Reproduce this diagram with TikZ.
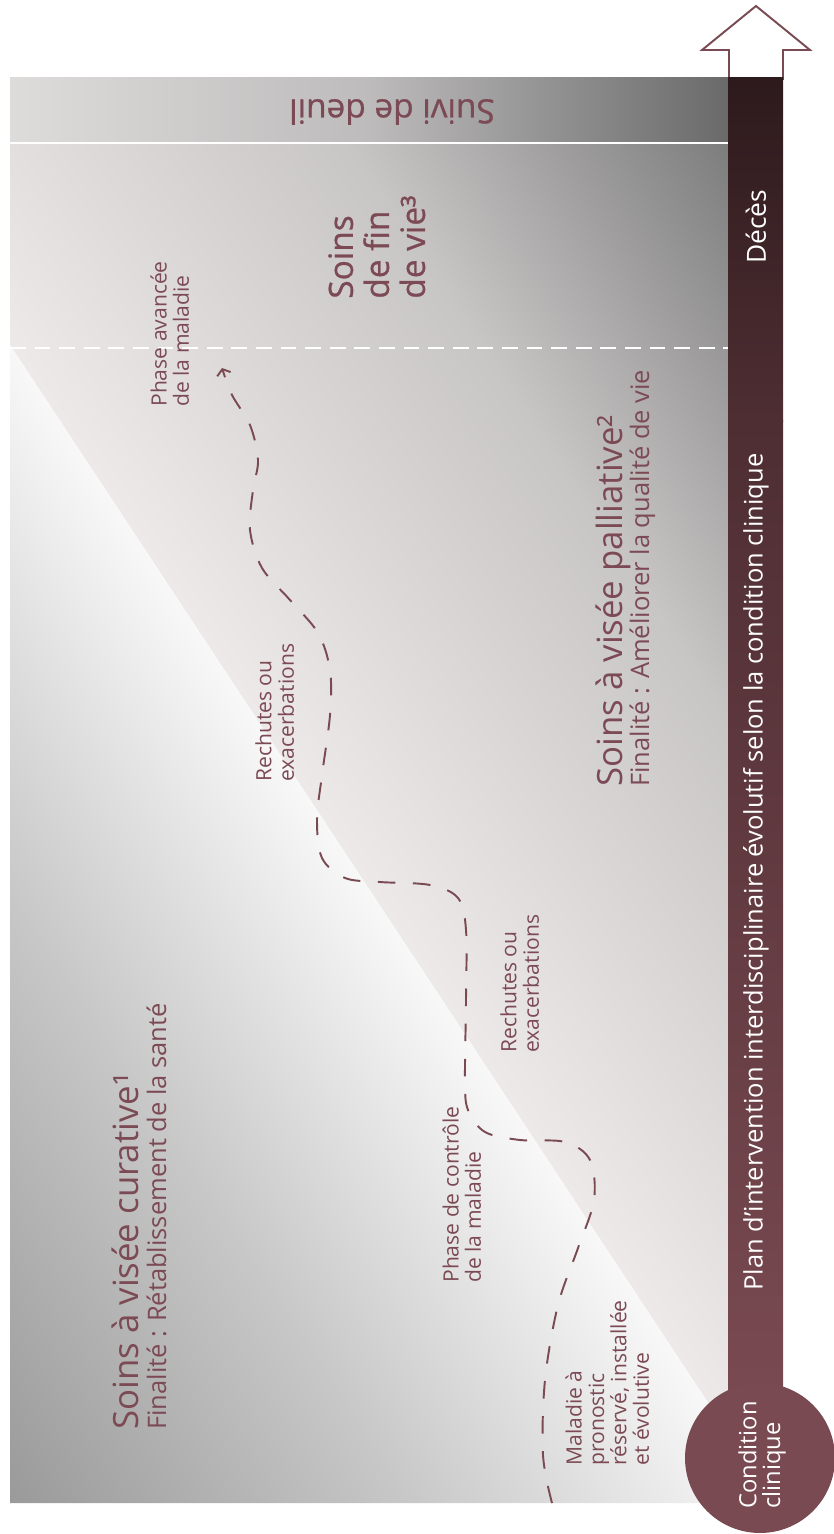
\documentclass[tikz,border=0pt]{standalone}
\usepackage{fontspec}
\setmainfont{Open Sans}
\newfontfamily\semibold{Open Sans}[FakeBold=0.8]
\usepackage{xcolor}
\usepackage{tikz}
\usetikzlibrary{positioning,arrows.meta}

\definecolor{wine}{HTML}{7A4A52}
\definecolor{winetext}{HTML}{7C4A54}
\definecolor{winedark}{HTML}{2D1A1C}
\definecolor{winemid}{HTML}{4E2E33}
\definecolor{palelite}{HTML}{EFEBEB}
\definecolor{palemid}{HTML}{C8C5C5}
\definecolor{paledark}{HTML}{727272}
\definecolor{curlite}{HTML}{FBFBFB}
\definecolor{curmid}{HTML}{C8C8C8}
\definecolor{curdark}{HTML}{949494}
\definecolor{deuillite}{HTML}{DEDBDB}
\definecolor{deuilmid}{HTML}{BDBBBB}
\definecolor{deuildark}{HTML}{6A6A6A}

\begin{document}
\begin{tikzpicture}[x=0.02cm, y=-0.02cm,
  big/.style={inner sep=0pt, text=winetext, font=\semibold\fontsize{19}{20.5}\selectfont},
  ttl/.style={rotate=90, anchor=base west, inner sep=0pt, text=winetext,
    font=\fontsize{19.8}{21}\selectfont},
  sub/.style={rotate=90, anchor=base west, inner sep=0pt, text=winetext,
    font=\fontsize{14.5}{17}\selectfont},
  lbl/.style={rotate=90, anchor=north west, align=left, inner sep=0pt,
    text=winetext, font=\fontsize{12}{12.8}\selectfont},
  bartxt/.style={rotate=90, inner sep=0pt, text=white,
    font=\fontsize{14.5}{14}\selectfont},
  trajet/.style={wine, line width=1.1pt, dash pattern=on 10pt off 10pt,
    -{Straight Barb[length=3pt, width=8pt]}}
]
\useasboundingbox (0,0) rectangle (834,1534);

\begin{scope}
  \clip (10,78) -- (728,78) -- (728,1433) -- (10,345) -- cycle;
  \begin{scope}[transform canvas={shift={(10,345)}, rotate=33.4}]
    \shade[left color=palelite, right color=palemid] (-20,-2500) rectangle (394,2500);
    \shade[left color=palemid, right color=paledark] (393,-2500) rectangle (760,2500);
  \end{scope}
\end{scope}
\begin{scope}
  \clip (10,345) -- (728,1433) -- (728,1503) -- (10,1503) -- cycle;
  \begin{scope}[transform canvas={shift={(10,345)}, rotate=33.4}]
    \shade[left color=curmid, right color=curlite] (-301,-2500) rectangle (20,2500);
    \shade[left color=curdark, right color=curmid] (-680,-2500) rectangle (-300,2500);
  \end{scope}
\end{scope}

\shade[left color=deuillite, right color=deuilmid] (10,78) rectangle (370,143);
\shade[left color=deuilmid, right color=deuildark] (369,78) rectangle (728,143);
\draw[white, line width=1.3pt] (10,143) -- (728,143);
\draw[white, line width=1.6pt, dash pattern=on 9pt off 5pt] (10,348) -- (728,348);

\draw[wine, line width=1.1pt, fill=white] (729,80) -- (729,50) -- (702,50)
  -- (756,6) -- (810,50) -- (783,50) -- (783,80);
\shade[top color=winedark, bottom color=winemid] (728,78) rectangle (783,421);
\shade[top color=winemid, bottom color=wine] (728,420) rectangle (783,1420);

\node[circle, fill=wine, minimum size=3cm, inner sep=0pt] (cond) at (760,1458) {};
\node[bartxt, align=left, font=\fontsize{13.5}{13.5}\selectfont] (condtxt) at (762,1455) {Condition\\clinique};
\node[bartxt] (plan) at (756,872) {Plan d’intervention interdisciplinaire évolutif selon la condition clinique};
\node[bartxt, font=\fontsize{15}{15}\selectfont] (deces) at (756,227) {Décès};

\node[big, rotate=180] (deuil) at (392,112) {Suivi de deuil};
\node[big, rotate=90, anchor=north west, align=left] (findevie) at (328,299) {Soins\\de fin\\de vie³};

\node[ttl] (pallia) at (622,787) {Soins à visée palliative²};
\node[sub] (palliasub) at (649,787) {Finalité : Améliorer la qualité de vie};
\node[ttl] (cura) at (138,1430) {Soins à visée curative¹};
\node[sub] (curasub) at (166,1430) {Finalité : Rétablissement de la santé};

\node[lbl] (avancee) at (150,407) {Phase avancée\\de la maladie};
\node[lbl] (rechute1) at (255,782) {Rechutes ou\\exacerbations};
\node[lbl] (rechute2) at (500,1053) {Rechutes ou\\exacerbations};
\node[lbl] (controle) at (442,1283) {Phase de contrôle\\de la maladie};
\node[lbl] (pronostic) at (565,1466) {Maladie à\\pronostic\\réservé, installée\\et évolutive};

\draw[trajet] plot[smooth, tension=0.55] coordinates {(552,1503) (543,1455)
  (545,1380) (558,1305) (578,1248) (594,1200) (590,1160) (565,1142) (520,1140)
  (485,1132) (468,1110) (465,1080) (466,1000) (466,930) (458,898) (430,885)
  (380,882) (345,878) (322,858) (317,820) (322,775) (330,715) (330,670)
  (318,633) (290,600) (262,568) (250,530) (253,490) (258,460) (250,425)
  (232,395) (222,368)};
\end{tikzpicture}
\end{document}
